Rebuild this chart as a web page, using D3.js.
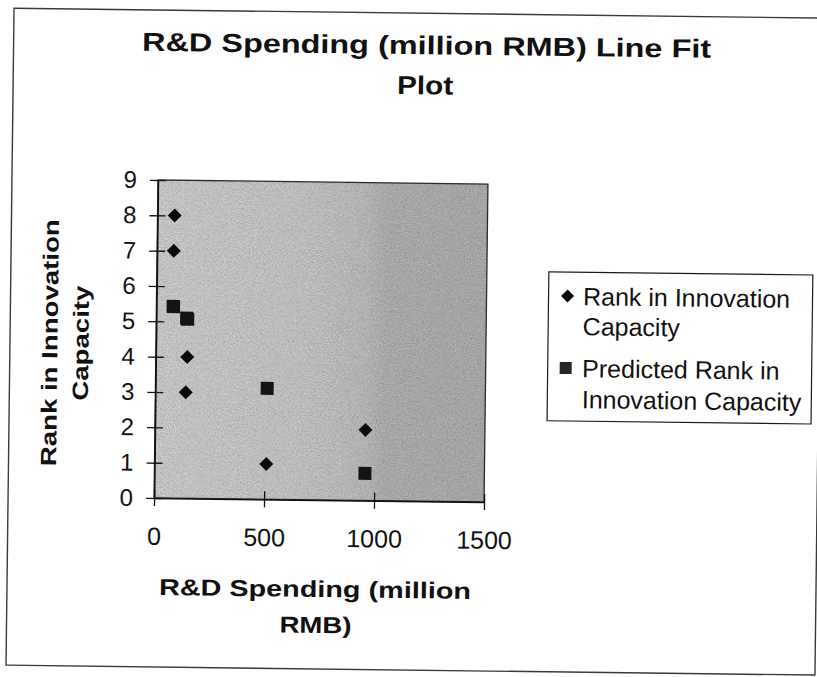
<!DOCTYPE html>
<html>
<head>
<meta charset="utf-8">
<script src="https://cdn.jsdelivr.net/npm/d3@7"></script>
<style>
  html, body { margin: 0; padding: 0; background: #ffffff; }
  svg { display: block; }
</style>
</head>
<body>
<svg id="chart" width="817" height="677"></svg>
<script>
// R&D spending per firm (million RMB) with observed and fitted innovation rank
const rdSpending     = [78, 76, 143, 138, 508, 957];
const innovationRank = [8, 7, 4, 3, 1, 2];
const predictedRank  = [5.42, 5.43, 5.07, 5.10, 3.14, 0.77];

const xTicks = [0, 500, 1000, 1500];
const yTicks = [0, 1, 2, 3, 4, 5, 6, 7, 8, 9];

const seriesNames = ["Rank in Innovation Capacity", "Predicted Rank in Innovation Capacity"];
const legendLines = [["Rank in Innovation", "Capacity"], ["Predicted Rank in", "Innovation Capacity"]];

const titleLines = ["R&D Spending (million RMB)  Line Fit", "Plot"];
const xTitleLines = ["R&D Spending (million", "RMB)"];
const yTitleLines = ["Rank in Innovation", "Capacity"];

const svg = d3.select("#chart");
const FONT = "'Liberation Sans', Arial, Helvetica, sans-serif";

const plot = { left: 156, right: 486, top: 182, bottom: 500 };

const x = d3.scaleLinear().domain([0, 1500]).range([plot.left, plot.right]);
const y = d3.scaleLinear().domain([0, 9]).range([plot.bottom, plot.top]);

const defs = svg.append("defs");

// plot-area shading: lighter on the left, darker towards the right
const grad = defs.append("linearGradient").attr("id", "plotShade")
  .attr("x1", "0%").attr("x2", "100%").attr("y1", "0%").attr("y2", "0%");
[["0%", "#d0d0d0"], ["45%", "#c8c8c8"], ["64%", "#bebebe"], ["70%", "#b3b3b3"], ["100%", "#b0b0b0"]]
  .forEach(([o, c]) => grad.append("stop").attr("offset", o).attr("stop-color", c));

// fine grain over the plot area
const grain = defs.append("filter").attr("id", "grain")
  .attr("x", 0).attr("y", 0).attr("width", "100%").attr("height", "100%");
grain.append("feTurbulence").attr("type", "fractalNoise")
  .attr("baseFrequency", 0.85).attr("numOctaves", 2).attr("seed", 7).attr("result", "n");
grain.append("feColorMatrix").attr("type", "matrix")
  .attr("values", "0 0 0 0 0  0 0 0 0 0  0 0 0 0 0  1.6 0 0 0 -0.55");

defs.append("clipPath").attr("id", "plotClip")
  .append("rect")
  .attr("x", plot.left).attr("y", plot.top)
  .attr("width", plot.right - plot.left).attr("height", plot.bottom - plot.top);

// whole sheet sits slightly tilted
const g = svg.append("g").attr("transform", "rotate(0.7, 321, 341)");

// chart frame
g.append("rect")
  .attr("x", 10).attr("y", 12).attr("width", 809).attr("height", 657)
  .attr("fill", "#ffffff").attr("stroke", "#3a3a3a").attr("stroke-width", 1.4);

// plot area
g.append("rect")
  .attr("x", plot.left).attr("y", plot.top)
  .attr("width", plot.right - plot.left).attr("height", plot.bottom - plot.top)
  .attr("fill", "url(#plotShade)");
g.append("rect")
  .attr("clip-path", "url(#plotClip)")
  .attr("x", plot.left).attr("y", plot.top)
  .attr("width", plot.right - plot.left).attr("height", plot.bottom - plot.top)
  .attr("filter", "url(#grain)").attr("opacity", 0.28);
g.append("rect")
  .attr("x", plot.left).attr("y", plot.top)
  .attr("width", plot.right - plot.left).attr("height", plot.bottom - plot.top)
  .attr("fill", "none").attr("stroke", "#2a2a2a").attr("stroke-width", 1.3);

// axes with crossing tick marks
const yAxis = g.append("g")
  .attr("transform", `translate(${plot.left},0)`)
  .call(d3.axisLeft(y).tickValues(yTicks).tickFormat(d3.format("d"))
    .tickSize(8).tickSizeOuter(0).tickPadding(13));
yAxis.selectAll(".tick line").attr("x1", 8);
yAxis.select(".domain").attr("stroke", "#111").attr("stroke-width", 1.6);
yAxis.selectAll(".tick line").attr("stroke", "#111").attr("stroke-width", 1.3);
yAxis.selectAll(".tick text").attr("font-family", FONT).attr("font-size", 24).attr("fill", "#111");

const xAxis = g.append("g")
  .attr("transform", `translate(0,${plot.bottom})`)
  .call(d3.axisBottom(x).tickValues(xTicks).tickFormat(d3.format("d"))
    .tickSize(8).tickSizeOuter(0).tickPadding(21));
xAxis.selectAll(".tick line").attr("y1", -8);
xAxis.select(".domain").attr("stroke", "#111").attr("stroke-width", 1.6);
xAxis.selectAll(".tick line").attr("stroke", "#111").attr("stroke-width", 1.3);
xAxis.selectAll(".tick text").attr("font-family", FONT).attr("font-size", 25).attr("fill", "#111");

// markers
const diamond = d3.symbol().type(d3.symbolSquare).size(98);
const square = d3.symbol().type(d3.symbolSquare).size(169);

const observed = rdSpending.map((v, i) => ({ x: v, y: innovationRank[i] }));
const predicted = rdSpending.map((v, i) => ({ x: v, y: predictedRank[i] }));

g.append("g").attr("class", "series-predicted")
  .selectAll("path").data(predicted).join("path")
  .attr("d", square)
  .attr("transform", d => `translate(${x(d.x)},${y(d.y)})`)
  .attr("fill", "#141414");

g.append("g").attr("class", "series-observed")
  .selectAll("path").data(observed).join("path")
  .attr("d", diamond)
  .attr("transform", d => `translate(${x(d.x)},${y(d.y)}) rotate(45)`)
  .attr("fill", "#0a0a0a");

// title
function stretchedText(parent, str, cx, baseline, len, size) {
  return parent.append("text")
    .attr("x", cx - len / 2).attr("y", baseline)
    .attr("textLength", len).attr("lengthAdjust", "spacingAndGlyphs")
    .attr("font-family", FONT).attr("font-weight", "bold")
    .attr("font-size", size).attr("fill", "#111")
    .text(str);
}
stretchedText(g, titleLines[0], 423, 53, 569, 26);
stretchedText(g, titleLines[1], 422, 93, 56, 26);

// axis titles
stretchedText(g, xTitleLines[0], 318, 597, 312, 23);
stretchedText(g, xTitleLines[1], 319, 633, 72, 23);

const yt = g.append("g");
stretchedText(yt.append("g").attr("transform", "translate(57.5,346) rotate(-90)"), yTitleLines[0], 0, 0, 247, 22);
stretchedText(yt.append("g").attr("transform", "translate(88.5,346) rotate(-90)"), yTitleLines[1], 0, 0, 115, 22);

// legend
const legend = g.append("g").attr("class", "legend");
legend.append("rect")
  .attr("x", 548).attr("y", 269).attr("width", 264).attr("height", 149)
  .attr("fill", "#ffffff").attr("stroke", "#1a1a1a").attr("stroke-width", 1.2);

const legendBase = [[302, 332], [374, 405]];
seriesNames.forEach((name, i) => {
  const item = legend.append("g").attr("class", "legend-item").attr("data-series", name);
  const cy = legendBase[i][0] - 9;
  if (i === 0) {
    item.append("path").attr("d", d3.symbol().type(d3.symbolSquare).size(84))
      .attr("transform", `translate(567,${cy}) rotate(45)`).attr("fill", "#0a0a0a");
  } else {
    item.append("path").attr("d", d3.symbol().type(d3.symbolSquare).size(144))
      .attr("transform", `translate(566,${cy})`).attr("fill", "#262626");
  }
  legendLines[i].forEach((line, j) => {
    item.append("text")
      .attr("x", 582.5).attr("y", legendBase[i][j])
      .attr("font-family", FONT).attr("font-size", 25).attr("fill", "#111")
      .text(line);
  });
});
</script>
</body>
</html>
